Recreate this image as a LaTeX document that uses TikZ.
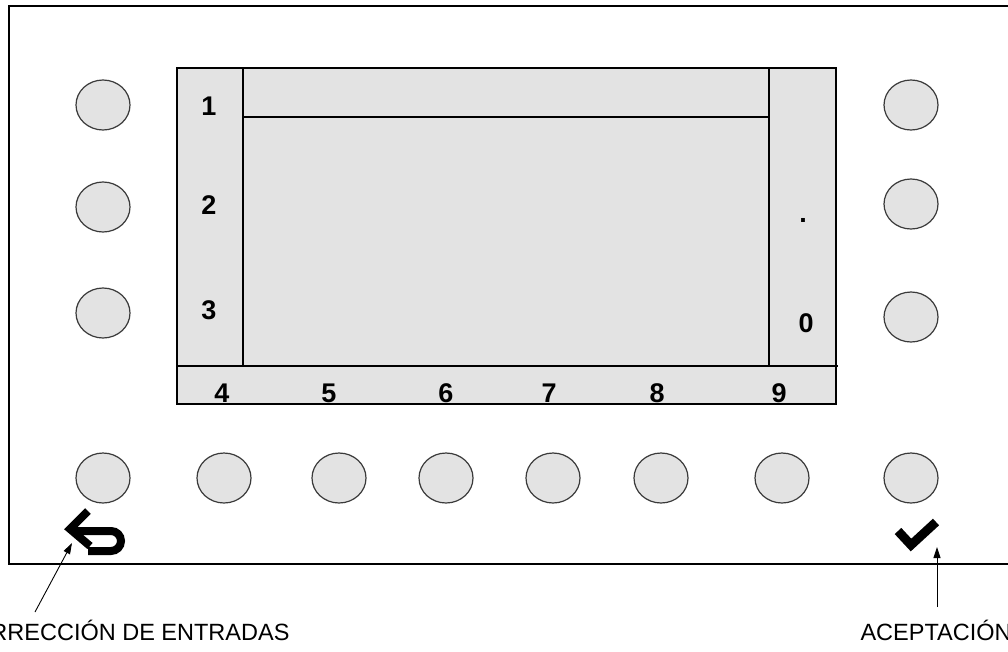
\documentclass[tikz,border=0pt]{standalone}
\usepackage{fontspec}
\setmainfont{Liberation Sans}
\usetikzlibrary{arrows.meta,shapes.geometric}
\definecolor{panel}{HTML}{E3E3E3}
\definecolor{rim}{HTML}{3A3A3A}

\begin{document}
\begin{tikzpicture}[x=1pt,y=-1pt,
  key/.style={ellipse,draw=rim,fill=panel,line width=1.2pt,
    minimum width=54pt,minimum height=50pt,inner sep=0pt},
  digit/.style={font=\fontsize{27}{27}\selectfont\bfseries},
  caption/.style={font=\fontsize{23.5}{23.5}\selectfont},
  pointer/.style={-{Triangle[length=11pt,width=7pt]},line width=0.9pt},
  icon/.style={line width=8pt}]
  \useasboundingbox (0,0) rectangle (1008,651);
  \clip (0,0) rectangle (1008,651);
  \draw[line width=1.4pt] (1010,6) -- (9,6) -- (9,564) -- (1010,564);
  % screen
  \draw[fill=panel,line width=1.3pt] (177,68) rectangle (836,404);
  \draw[line width=1.3pt] (243,68) -- (243,366) (769,68) -- (769,366)
    (243,117) -- (769,117) (177,366) -- (838,366);
  \foreach \d/\y in {1/106,2/205,3/310}
    \node[digit] (s\d) at (209,\y) {\d};
  \node[digit] (sdot) at (803,220) {.};
  \node[digit] (s0) at (806,323) {0};
  \foreach \d/\x in {4/222,5/329,6/446,7/549,8/657,9/779}
    \node[digit] (s\d) at (\x,393) {\d};
  % keys
  \foreach \y [count=\i] in {105,207,313}
    \node[key] (kl\i) at (103,\y) {};
  \foreach \y [count=\i] in {105,204,317}
    \node[key] (kr\i) at (911,\y) {};
  \foreach \x [count=\i] in {103,224,339,446,553,661,782,911}
    \node[key] (kb\i) at (\x,478) {};
  % icons
  \draw[icon] (88,551) -- (111,551) arc[start angle=-90,end angle=90,radius=10pt] -- (74,531);
  \draw[icon,line join=miter] (88,511) -- (70,529) -- (90,546);
  \draw[line width=9pt] (898,531) -- (911,545) -- (936,522);
  % captions
  \coordinate (backtip) at (72,543);
  \coordinate (checktip) at (937,547);
  \node[caption,anchor=base east] (corr) at (293,640) {CORRECCIÓN DE ENTRADAS};
  \node[caption,anchor=base west] (acep) at (857,640) {ACEPTACIÓN};
  \draw[pointer] (35,612) -- (backtip);
  \draw[pointer] (937,607) -- (checktip);
\end{tikzpicture}
\end{document}
